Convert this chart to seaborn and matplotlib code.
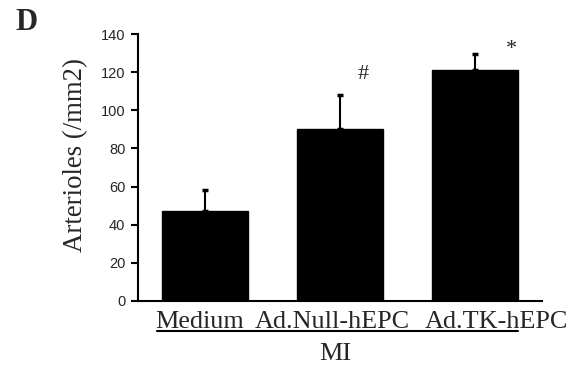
import matplotlib
matplotlib.use("Agg")
import matplotlib.pyplot as plt
import matplotlib.transforms as mtransforms
import seaborn as sns
import numpy as np
import pandas as pd

categories = ["Medium", "Ad.Null-hEPC", "Ad.TK-hEPC"]
values = [47, 90, 121]
errors = [11, 18, 8.5]
marks = ["", "#", "*"]
yticks = [0, 20, 40, 60, 80, 100, 120, 140]
group_label = "MI"
panel_label = "D"
ylabel = "Arterioles (/mm2)"

sns.set_theme(style="ticks")
plt.rcParams["font.family"] = ["Liberation Sans", "DejaVu Sans"]

fig = plt.figure(figsize=(5.83, 3.66), dpi=100)
ax = fig.add_axes([0.2367, 0.1776, 0.693, 0.7295])

df = pd.DataFrame({"cat": categories, "val": values})
sns.barplot(data=df, x="cat", y="val", color="black", width=0.64,
            errorbar=None, ax=ax, edgecolor="black", saturation=1)
xs = np.arange(len(categories))
ax.errorbar(xs, values, yerr=[np.zeros(len(errors)), errors], fmt="none",
            ecolor="black", elinewidth=1.5, capsize=2, capthick=2.5)

ax.set_xlim(-0.5, 2.5)
ax.set_ylim(0, 140)
ax.set_yticks(yticks)
ax.set_yticklabels([str(t) for t in yticks], fontsize=10.5, family="Liberation Sans")
for s in ["top", "right"]:
    ax.spines[s].set_visible(False)
for s in ["left", "bottom"]:
    ax.spines[s].set_color("black")
    ax.spines[s].set_linewidth(1.5)
ax.tick_params(axis="y", direction="out", length=5, width=1.5, color="black", pad=4)
ax.tick_params(axis="x", length=0)

label_pos = [-0.04, 0.94, 2.16]
ax.set_xticks(label_pos)
ax.set_xticklabels(categories, fontsize=18.8, family="Liberation Serif")
ax.tick_params(axis="x", pad=7)
ax.set_xlabel("")

ax.set_ylabel(ylabel, fontsize=19.3, family="Liberation Serif")
ax.yaxis.set_label_coords(-0.123, 0.545)

# significance marks (x offset, y offset above the error bar)
mark_dx = [0, 0.17, 0.275]
mark_dy = [0, 11, 2.5]
for i, (m, v, e) in enumerate(zip(marks, values, errors)):
    if m:
        ax.text(i + mark_dx[i], v + e + mark_dy[i], m, ha="center", va="center",
                fontsize=16, family="Liberation Serif")

trans = mtransforms.blended_transform_factory(ax.transData, ax.transAxes)
ax.plot([-0.357, 2.32], [-0.112, -0.112], color="black", lw=1.5,
        transform=trans, clip_on=False)
ax.text(0.965, -0.198, group_label, transform=trans, ha="center", va="center",
        fontsize=18.8, family="Liberation Serif")

fig.text(0.045, 0.938, panel_label, fontsize=22, fontweight="bold",
         family="Liberation Serif", ha="center", va="center")

fig.savefig("out.png", dpi=100, facecolor="white")
